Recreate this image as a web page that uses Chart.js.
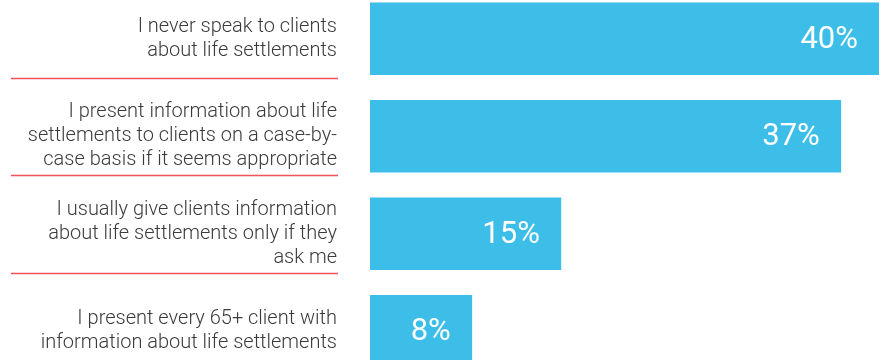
<!DOCTYPE html>
<html>
<head>
<meta charset="utf-8">
<script src="https://cdn.jsdelivr.net/npm/chart.js@4"></script>
<style>
  html, body { margin: 0; padding: 0; background: #fff; overflow: hidden; }
  body { width: 884px; height: 360px; position: relative; }
  #wrap { position: absolute; left: 0; top: -10px; width: 884px; height: 390px; }
</style>
</head>
<body>
<div id="wrap"><canvas id="surveyChart"></canvas></div>
<script>
// answers, one per bar, each split into its display lines
const answers = [
    ['I never speak to clients', 'about life settlements'],
    ['I present information about life', 'settlements to clients on a case-by-', 'case basis if it seems appropriate'],
    ['I usually give clients information', 'about life settlements only if they', 'ask me'],
    ['I present every 65+ client with', 'information about life settlements']
];
const shares = [40, 37, 15, 8];

const BAR_BLUE = '#3dbee8';
const RULE_RED = '#f05257';

// white percentage inside the right end of each bar
const valueLabels = {
    id: 'valueLabels',
    afterDatasetsDraw(chart) {
        const ctx = chart.ctx;
        const meta = chart.getDatasetMeta(0);
        ctx.save();
        ctx.fillStyle = '#ffffff';
        ctx.font = '400 31px Roboto';
        ctx.textAlign = 'right';
        ctx.textBaseline = 'middle';
        meta.data.forEach((bar, i) => {
            ctx.fillText(shares[i] + '%', bar.x - 21, bar.y + 1);
        });
        ctx.restore();
    }
};

// thin red rules under each answer text
const separators = {
    id: 'separators',
    afterDraw(chart) {
        const ctx = chart.ctx;
        const meta = chart.getDatasetMeta(0);
        ctx.save();
        ctx.strokeStyle = RULE_RED;
        ctx.lineWidth = 1.5;
        for (let i = 0; i < meta.data.length - 1; i++) {
            const bar = meta.data[i];
            const y = Math.round(bar.y + bar.height / 2 + 3) + 0.5;
            ctx.beginPath();
            ctx.moveTo(11, y);
            ctx.lineTo(338, y);
            ctx.stroke();
        }
        ctx.restore();
    }
};

const ctx = document.getElementById('surveyChart').getContext('2d');
const surveyChart = new Chart(ctx, {
    type: 'bar',
    data: {
        labels: answers,
        datasets: [{
            data: shares,
            backgroundColor: BAR_BLUE,
            borderWidth: 0,
            barThickness: 72
        }]
    },
    options: {
        indexAxis: 'y',
        responsive: true,
        maintainAspectRatio: false,
        animation: false,
        layout: { padding: { left: 0, right: 5, top: 0, bottom: 0 } },
        plugins: {
            legend: { display: false },
            tooltip: { enabled: false }
        },
        scales: {
            x: {
                display: false,
                min: 0,
                max: 40
            },
            y: {
                grid: { display: false, drawTicks: false },
                border: { display: false },
                afterFit(scale) {
                    scale.width = 370;
                    scale.paddingTop = 0;
                    scale.paddingBottom = 0;
                },
                ticks: {
                    padding: 33,
                    color: '#3a3a3a',
                    font: { family: 'Roboto', size: 20, weight: 300, lineHeight: 1.2 }
                }
            }
        }
    },
    plugins: [valueLabels, separators]
});
</script>
</body>
</html>
